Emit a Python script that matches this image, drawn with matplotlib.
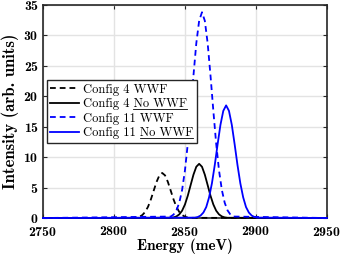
import matplotlib
matplotlib.use("Agg")
import matplotlib.pyplot as plt
from matplotlib.lines import Line2D

plt.rcParams['axes.formatter.use_mathtext'] = True

# curves (energy in meV, intensity in arb. units)
e_c4_wwf = [2750, 2814, 2816, 2818, 2820, 2822, 2824, 2826, 2828, 2830, 2832, 2834,
            2836, 2838, 2840, 2842, 2844, 2846, 2848, 2850, 2852, 2854, 2950]
i_c4_wwf = [0, 0.03, 0.08, 0.21, 0.49, 1.0, 1.84, 3.04, 4.49, 5.92, 7.0, 7.4,
            7.0, 5.92, 4.49, 3.04, 1.84, 1.0, 0.49, 0.21, 0.08, 0.03, 0]

e_c4_nowwf = [2750, 2840, 2842, 2844, 2846, 2848, 2850, 2852, 2854, 2856, 2858, 2860,
              2862, 2864, 2866, 2868, 2870, 2872, 2874, 2876, 2878, 2880, 2950]
i_c4_nowwf = [0, 0.04, 0.10, 0.26, 0.59, 1.2, 2.22, 3.66, 5.40, 7.12, 8.42, 8.9,
              8.42, 7.12, 5.40, 3.66, 2.22, 1.2, 0.59, 0.26, 0.10, 0.04, 0]

e_c11_wwf = [2750, 2840, 2842, 2844, 2846, 2848, 2850, 2852, 2854, 2856, 2858, 2860, 2862,
             2864, 2866, 2868, 2870, 2872, 2874, 2876, 2878, 2880, 2882, 2884, 2950]
i_c11_wwf = [0, 0.24, 0.57, 1.25, 2.5, 4.6, 7.8, 12.2, 17.6, 23.4, 28.7, 32.4, 33.8,
             32.4, 28.7, 23.4, 17.6, 12.2, 7.8, 4.6, 2.5, 1.25, 0.57, 0.24, 0]

e_c11_nowwf = [2750, 2857, 2859, 2861, 2863, 2865, 2867, 2869, 2871, 2873, 2875, 2877, 2879,
               2881, 2883, 2885, 2887, 2889, 2891, 2893, 2895, 2897, 2899, 2901, 2950]
i_c11_nowwf = [0, 0.06, 0.16, 0.4, 0.9, 1.8, 3.4, 5.7, 8.7, 12.1, 15.3, 17.6, 18.5,
               17.6, 15.3, 12.1, 8.7, 5.7, 3.4, 1.8, 0.9, 0.4, 0.16, 0.06, 0]

labels = ["Config 4 WWF", "Config 4 No WWF", "Config 11 WWF", "Config 11 No WWF"]
xticks = [2750, 2800, 2850, 2900, 2950]
yticks = [0, 5, 10, 15, 20, 25, 30, 35]

fig = plt.figure(figsize=(3.46, 2.60), dpi=100)
ax = fig.add_axes([0.124, 0.1615, 0.821, 0.8195])

dash = (0, (3.2, 2.2))
lw = 1.3
kw = dict(lw=lw, zorder=3, clip_on=False)
ax.plot(e_c4_wwf, i_c4_wwf, color='black', ls=dash, label=labels[0], **kw)
ax.plot(e_c4_nowwf, i_c4_nowwf, color='black', label=labels[1], **kw)
ax.plot(e_c11_wwf, i_c11_wwf, color='blue', ls=dash, label=labels[2], **kw)
ax.plot(e_c11_nowwf, i_c11_nowwf, color='blue', label=labels[3], **kw)

ax.set_xlim(2750, 2950)
ax.set_ylim(0, 35)
ax.set_xticks(xticks)
ax.set_yticks(yticks)
ax.grid(True, color='#e3e3e3', lw=1.0)
ax.set_axisbelow(True)
ax.tick_params(direction='in', top=True, right=True, length=3, width=0.8,
               color='#262626', labelsize=10)
ax.tick_params(axis='x', pad=5)
ax.tick_params(axis='y', pad=3)
for lab in ax.get_xticklabels() + ax.get_yticklabels():
    lab.set_family('cmb10')
for sp in ax.spines.values():
    sp.set_color('#262626')
    sp.set_linewidth(1.2)

ax.set_xlabel("Energy (meV)", family='cmb10', fontsize=11, labelpad=0)
ax.set_ylabel("Intensity (arb. units)", family='cmb10', fontsize=12, labelpad=3)

leg = ax.legend(loc='upper left', bbox_to_anchor=(0.013, 0.649), borderaxespad=0,
                prop={'family': 'cmr10', 'size': 9}, fancybox=False, framealpha=1,
                edgecolor='#262626', handlelength=2.3, handletextpad=0.3,
                labelspacing=0.2, borderpad=0.3)
leg.get_frame().set_linewidth(1.0)
leg.set_zorder(5)

# underline "No WWF" in the legend labels
fig.canvas.draw()
renderer = fig.canvas.get_renderer()
inv = fig.transFigure.inverted()
for t in leg.get_texts():
    s = t.get_text()
    if 'No WWF' not in s:
        continue
    bb = t.get_window_extent(renderer)
    prop = t.get_fontproperties()
    w_suf, _, _ = renderer.get_text_width_height_descent('No WWF', prop, ismath=False)
    _, _, desc = renderer.get_text_width_height_descent(s, prop, ismath=False)
    y = bb.y0 + desc - 1.5
    (x0, y0), (x1, y1) = inv.transform([(bb.x1 - w_suf, y), (bb.x1, y)])
    fig.add_artist(Line2D([x0, x1], [y0, y1], transform=fig.transFigure,
                          color='black', lw=0.6, zorder=10))

fig.savefig("out.png", dpi=100)
